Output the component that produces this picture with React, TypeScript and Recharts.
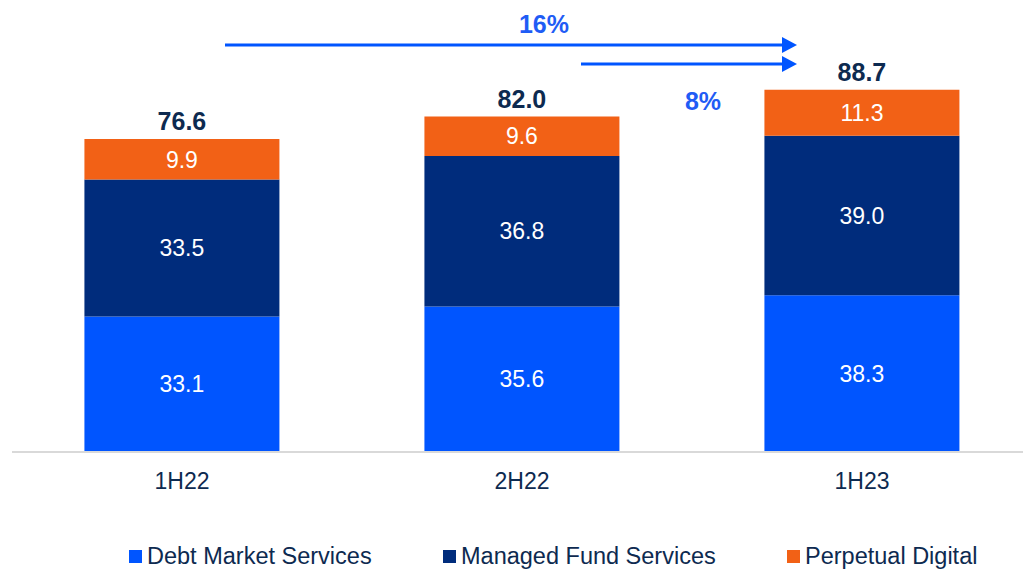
import React from "react";
import { BarChart, Bar, XAxis, YAxis, LabelList, Legend } from "recharts";

const categories = ["1H22", "2H22", "1H23"];
const debtMarket = [33.1, 35.6, 38.3];
const managedFund = [33.5, 36.8, 39.0];
const perpetualDigital = [9.9, 9.6, 11.3];
const totals = [76.6, 82.0, 88.7];

const seriesNames = ["Debt Market Services", "Managed Fund Services", "Perpetual Digital"];
const colors = ["#0055ff", "#002c7c", "#f26116"];
const navy = "#0d2a50";

const chartData = categories.map((c, i) => ({
  period: c,
  debt: debtMarket[i],
  managed: managedFund[i],
  perpetual: perpetualDigital[i],
  total: totals[i],
}));

const growth = (from: number, to: number) => `${Math.round((to / from - 1) * 100)}%`;

const fmt = (v: any) => Number(v).toFixed(1);

const LegendRow = () => {
  const lefts = [129, 443, 787];
  return (
    <div style={{ position: "relative", height: 30, width: 1023 }}>
      {seriesNames.map((name, i) => (
        <div
          key={name}
          style={{
            position: "absolute",
            left: lefts[i],
            top: 0,
            display: "flex",
            alignItems: "center",
            fontFamily: "'Liberation Sans', Arial, sans-serif",
            fontSize: 23.5,
            color: navy,
            whiteSpace: "nowrap",
          }}
        >
          <span style={{ width: 13, height: 13, background: colors[i], marginRight: 5, display: "inline-block" }} />
          {name}
        </div>
      ))}
    </div>
  );
};

const Arrows = () => (
  <svg width={1023} height={120} style={{ position: "absolute", left: 0, top: 0, pointerEvents: "none" }}>
    <line x1={225} y1={45} x2={784} y2={45} stroke="#0055ff" strokeWidth={3} />
    <polygon points="782,37 797,45 782,53" fill="#0055ff" />
    <line x1={581} y1={64} x2={784} y2={64} stroke="#0055ff" strokeWidth={3} />
    <polygon points="782,56 797,64 782,72" fill="#0055ff" />
    <text x={544} y={33} textAnchor="middle" fontSize={25} fontWeight="bold" fill="#1f5cf5"
      fontFamily="'Liberation Sans', Arial, sans-serif">
      {growth(totals[0], totals[2])}
    </text>
    <text x={703} y={110} textAnchor="middle" fontSize={25} fontWeight="bold" fill="#1f5cf5"
      fontFamily="'Liberation Sans', Arial, sans-serif">
      {growth(totals[1], totals[2])}
    </text>
  </svg>
);

export default function App() {
  return (
    <div style={{ position: "absolute", left: 0, top: 0, width: 1023, height: 569, overflow: "hidden", background: "#fff" }}>
      <BarChart
        width={1040}
        height={569}
        data={chartData}
        margin={{ top: 43, right: 8, left: 12, bottom: 17 }}
        barCategoryGap="21.3%"
        style={{ fontFamily: "'Liberation Sans', Arial, sans-serif" }}
      >
        <XAxis
          dataKey="period"
          axisLine={{ stroke: "#d9d9d9", strokeWidth: 2 }}
          tickLine={false}
          tickMargin={15}
          height={60}
          tick={{ fill: navy, fontSize: 23 }}
        />
        <YAxis hide domain={[0, 100]} />
        <Legend verticalAlign="bottom" height={40} wrapperStyle={{ top: 543, left: 0 }} content={() => <LegendRow />} />
        <Bar dataKey="debt" stackId="a" fill={colors[0]} isAnimationActive={false}>
          <LabelList dataKey="debt" position="center" fill="#fff" fontSize={23} formatter={fmt} />
        </Bar>
        <Bar dataKey="managed" stackId="a" fill={colors[1]} isAnimationActive={false}>
          <LabelList dataKey="managed" position="center" fill="#fff" fontSize={23} formatter={fmt} />
        </Bar>
        <Bar dataKey="perpetual" stackId="a" fill={colors[2]} isAnimationActive={false}>
          <LabelList dataKey="perpetual" position="center" fill="#fff" fontSize={23} formatter={fmt} />
          <LabelList dataKey="total" position="top" offset={9} fill={navy} fontSize={25} fontWeight="bold" formatter={fmt} />
        </Bar>
      </BarChart>
      <Arrows />
    </div>
  );
}
